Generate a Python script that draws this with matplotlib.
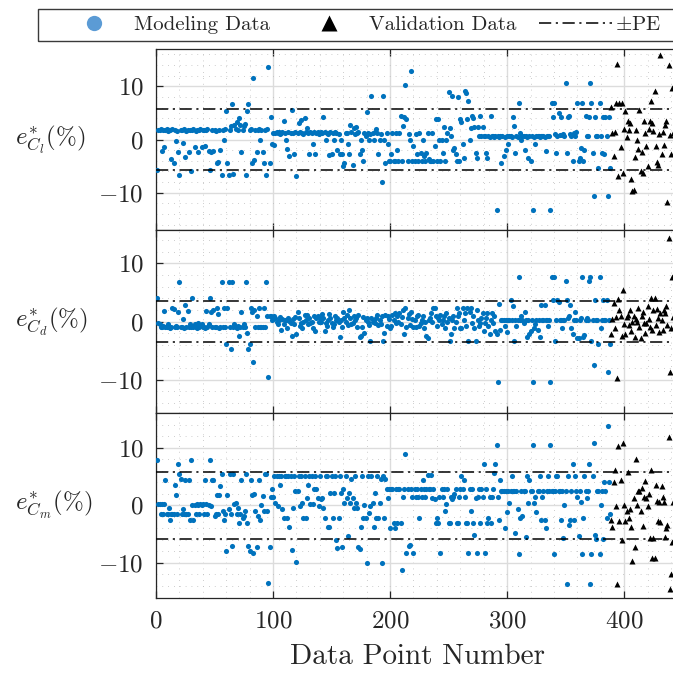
import numpy as np
import matplotlib
matplotlib.use("Agg")
import matplotlib.pyplot as plt
from matplotlib.lines import Line2D
from matplotlib.patches import Rectangle
from matplotlib.legend_handler import HandlerLine2D
from matplotlib.ticker import MultipleLocator

plt.rcParams.update({
    "font.family": "serif",
    "font.serif": ["cmr10"],
    "mathtext.fontset": "cm",
    "axes.formatter.use_mathtext": True,
    "axes.unicode_minus": True,
})

# ---------------------------------------------------------------- data
# relative errors (%) of the modeling points, in data-point order
cl_model = [
    -5.8, 1.8, 1.7, 1.9, -2.2, 1.8, -1.5, 1.7, 1.9, 1.6, 1.8, 1.7, -3.6, 1.9, -4.4, 1.8, -0.3, 1.6, -2.3, -6.6,
    1.8, 1.7, -0.7, 1.9, -3.3, 1.6, 1.8, -2.4, 1.7, -6.0, 1.8, 1.9, -1.5, 1.6, 1.8, -2.3, 1.7, 1.9, -1.4, 1.8,
    1.8, -1.3, 1.7, 1.9, -2.2, -5.8, -2.3, 1.8, -2.1, 1.7, 1.6, -4.4, -4.3, 1.8, -1.9, -6.6, 1.7, 0.0, 1.9, 5.3,
    -4.5, -6.6, 1.8, 2.6, 6.6, -6.5, 2.8, 1.9, 3.2, 1.7, 4.0, 2.8, -2.3, 1.8, 2.5, 2.9, -6.6, 5.3, 6.6, 1.8,
    1.9, -4.5, 11.6, -3.8, 1.8, -2.3, 1.7, 1.9, 0.0, 1.8, -2.3, -4.4, 1.7, -6.6, 1.9, 13.7, -4.4, 4.2, -0.9, 1.2,
    -1.0, 1.3, 1.5, 1.2, 1.4, 1.1, 1.3, 1.5, 3.5, 1.2, -0.1, -1.8, 1.4, -3.1, 1.2, 5.5, 1.3, -2.8, 1.5, -6.9,
    1.2, 3.1, 1.4, 3.6, 1.3, 1.1, 4.1, 1.5, 2.2, 1.2, -2.8, 1.4, 1.3, -0.9, 1.5, -2.8, 1.2, 1.4, 1.1, 1.3,
    1.5, 1.2, 4.2, 1.4, 0.0, 1.3, 1.1, -3.0, 1.4, -2.8, 1.2, 0.0, 1.5, 1.3, -1.9, 1.1, -2.8, 0.0, -2.8, -5.0,
    -4.4, 1.3, 1.2, -0.9, -2.8, 2.8, 1.4, -4.7, 2.2, 1.1, 2.4, 1.3, 1.5, -2.8, 0.0, -1.9, -4.1, 1.2, 0.6, 5.2,
    1.3, 0.0, 1.1, 8.2, 1.3, 0.0, 1.4, 1.9, 1.2, -2.8, 0.0, 1.1, -7.9, 8.2, 0.0, -4.4, 1.2, -0.9, -4.1, -4.1,
    -2.8, 1.3, -4.1, -4.1, 1.2, -1.9, -4.1, 1.3, 4.4, -4.1, 2.5, 4.2, 10.2, 3.8, -4.1, 1.1, 0.0, 12.9, -4.1, -1.3,
    -4.1, 1.1, -2.8, -4.1, 1.3, -2.6, -4.1, 0.0, -3.1, -4.1, -2.6, 1.2, -3.7, -4.1, -4.1, 1.3, -4.1, -1.3, 3.8, -4.1,
    3.8, -0.1, -4.1, 0.0, -2.5, 2.4, -4.1, 0.0, 1.2, 8.9, 2.2, 0.6, 8.2, -2.0, -1.6, -2.8, -4.1, 8.0, -4.1, 3.8,
    3.2, -0.9, -3.5, 9.1, 8.8, 3.8, 7.2, 0.0, 2.2, 4.4, 4.1, 2.3, -2.5, -3.5, 2.3, 0.6, 4.4, 0.6, 2.3, 0.6,
    0.6, -2.5, -3.5, 0.6, 0.5, 4.4, 0.6, 0.7, 0.5, 0.6, -13.3, 0.6, 0.5, 0.7, -4.4, 0.6, -3.1, 0.5, -1.9, 0.6,
    -0.9, 0.6, 0.7, 0.5, 4.3, 2.6, -2.5, 0.6, 0.5, 6.9, 1.3, 0.0, 0.6, 0.7, -2.0, 0.6, 0.5, -3.5, 0.6, -4.1,
    0.6, -13.3, 0.5, -0.9, 0.6, 0.7, 0.6, 0.5, 0.6, 0.7, 0.6, 0.5, -2.2, 0.6, 0.7, 0.6, -13.3, 6.9, 4.2, 6.9,
    1.0, -2.5, 0.6, 5.0, 0.9, 4.3, 0.9, 1.0, 0.6, 10.7, -2.5, 4.3, 4.5, 1.1, 0.6, -4.1, 1.3, 0.6, 1.5, 6.9,
    -4.1, -3.5, -1.6, 6.9, -4.1, -2.0, 4.5, 0.6, 0.6, 4.3, 10.7, 6.9, -2.5, -10.6, 4.3, 0.6, 0.6, -5.3, 6.9, 0.6,
    -2.5, 4.3, -2.8, 4.3, 0.6, -10.6, 4.3, -5.3,
]
cd_model = [
    4.1, -0.3, -0.5, -0.9, -1.0, -0.8, 1.8, -1.0, -0.9, -0.4, -1.0, -1.1, -0.9, 2.4, 2.1, -1.0, -0.8, -1.0, 1.7, 6.8,
    -1.0, -0.9, 0.5, -1.1, 2.8, -0.9, 1.8, -1.0, -0.5, -0.9, 4.1, -1.0, -0.4, -0.9, -1.1, -0.3, -1.0, -0.8, -0.5, -1.0,
    -0.9, -1.1, 1.8, -0.9, -0.4, 4.1, 1.7, -1.0, 2.0, -0.9, -1.0, 2.3, 1.3, -1.1, -0.9, 6.8, -1.0, 2.3, -0.9, -3.8,
    2.3, 6.8, -1.0, -4.8, 6.8, -0.9, -0.5, -1.0, -1.1, -0.8, -2.5, -1.0, 1.7, -0.9, -0.5, -1.0, 6.8, -2.0, -4.8, -3.8,
    2.3, 1.7, -7.0, 2.0, -0.9, 0.9, -1.0, 2.3, -1.0, -1.0, -1.0, 2.3, -1.0, 6.8, 1.0, -9.6, 0.9, 1.0, 0.3, 0.5,
    0.9, 0.6, 0.0, -0.5, 0.2, 0.8, -1.5, 0.4, -0.5, 0.2, 0.3, -1.2, 0.6, 0.1, -0.3, -2.5, 0.5, -0.5, 0.7, -2.1,
    1.6, 0.6, -0.8, -0.3, -1.1, 0.0, 1.1, 0.3, 1.1, -0.5, 0.6, -0.3, 0.0, -1.1, 0.9, -1.7, 0.6, 0.9, 0.0, 0.6,
    0.0, 1.3, 0.6, -1.7, -0.3, -0.8, 0.3, 1.3, 0.6, -0.3, -1.0, -0.5, 0.9, 0.3, 0.6, 0.0, -2.7, 0.3, -0.9, 1.7,
    0.6, 0.0, 1.1, -0.6, 2.0, 0.6, -0.5, -0.3, 0.9, 0.3, 0.6, -0.9, 1.2, -2.7, -2.5, -0.9, 0.7, -2.0, 0.3, 0.6,
    0.0, -0.6, -3.4, 0.6, 0.0, 0.3, -0.3, 0.6, 1.1, -0.6, 0.3, -0.5, 1.0, -3.4, -1.9, 1.1, -0.8, 1.0, 0.5, -1.1,
    -0.8, 1.1, 0.2, 1.4, -0.2, 0.9, 0.0, 1.5, -0.5, 0.8, 2.0, -2.2, 2.3, -1.0, 0.6, 1.3, -0.6, 1.7, 0.4, -1.0,
    0.3, -1.0, 0.9, 1.2, -0.8, -0.2, 0.2, 1.0, -1.1, 0.0, -2.5, -2.8, 0.3, 0.6, 1.4, 0.0, 2.3, 2.3, 1.0, -0.8,
    0.6, 0.3, 1.2, -0.5, 0.3, 0.9, -1.1, 1.4, 0.0, 0.6, -3.4, -2.2, 0.3, 0.9, -1.1, 0.0, 2.3, 0.9, 1.4, -1.1,
    -1.1, 2.3, 0.3, 1.4, -0.8, 2.3, -3.4, 1.7, 2.3, -0.3, 0.9, -1.1, -3.4, 2.0, 0.3, -0.8, -0.3, 0.6, 1.4, -1.7,
    -0.3, 0.6, 1.4, -0.8, -2.2, 0.3, 1.4, -0.3, 0.9, -1.7, -2.2, -10.4, 3.0, -1.4, 0.3, 0.3, 0.3, -0.8, 0.3, -1.8,
    0.3, 0.3, 3.7, 0.3, 2.6, -3.4, 0.3, -0.8, 0.3, 7.6, 0.3, 0.9, 0.3, -0.3, 1.7, 0.3, -2.7, 0.3, -2.2, -1.7,
    0.3, -10.4, -1.1, -0.5, 0.3, -1.4, 0.3, -2.7, 2.8, 0.3, 0.3, 2.8, 0.3, 0.3, -0.8, 0.3, -10.4, 7.6, 3.7, 7.6,
    -3.4, 0.3, 3.7, 3.4, 0.3, 0.3, -1.1, 0.3, 0.3, 6.9, 3.7, 0.6, 0.9, 2.8, -1.1, -2.2, 0.3, 1.7, 0.3, -2.8,
    -2.8, 0.3, 0.6, 7.6, -2.6, -2.3, 0.3, 0.6, 0.3, 6.9, 7.6, -3.4, 0.3, -7.5, 3.7, 0.3, 0.3, -3.9, 7.6, -1.1,
    0.3, 3.7, 0.3, 0.3, 3.7, -8.7, 0.3, -3.9,
]
cm_model = [
    7.8, 0.2, 0.2, -1.6, 0.2, -1.6, 0.2, 4.3, -1.6, -1.6, -0.4, -2.5, -1.6, -1.6, -1.6, 3.5, 1.8, -1.6, 7.2, 5.5,
    4.6, -1.6, -0.7, -1.6, 4.3, -1.6, -1.6, 4.4, -2.5, 7.8, 0.0, -2.5, 0.0, -1.6, 0.2, 0.0, -1.6, 0.2, 0.0, 0.2,
    -1.6, 4.4, 0.2, -1.6, 0.0, 7.8, -0.1, 4.4, 4.4, -1.9, -1.6, 1.8, -1.6, 1.8, 3.4, 5.5, -1.0, -2.5, -1.6, -8.0,
    1.8, -0.7, 5.5, -1.6, -7.0, 5.5, 0.2, 0.4, -1.6, -0.4, -3.0, -1.6, 4.4, -2.2, -1.8, -1.0, 5.5, -3.0, -7.0, -8.0,
    4.4, 1.8, -8.2, 1.9, -1.0, -7.3, -1.8, 4.4, -2.5, 0.0, 1.6, -1.0, 5.5, 5.5, -1.0, -13.5, -7.3, 1.4, 2.8, 1.5,
    5.1, 0.4, 5.1, -0.1, 5.1, 3.5, 5.1, -0.7, -2.2, 5.1, 5.1, -2.2, 5.1, -3.8, 5.1, -7.8, -0.4, 5.1, 2.5, -9.8,
    2.5, 5.1, -0.1, 5.1, 0.4, -2.2, 5.1, -2.2, 1.2, 3.5, 5.1, 0.2, 5.1, 0.2, 2.8, 5.1, 2.8, 1.2, -0.1, 5.1,
    1.0, 1.2, -0.4, -2.2, 5.1, 5.1, -3.8, -3.8, 2.1, 5.1, -2.2, 2.1, 5.1, -6.0, -7.5, -2.2, 5.1, 2.1, -7.3, 2.8,
    0.4, 5.1, 1.2, -5.4, 2.1, 0.4, 4.5, 1.2, -0.4, 5.1, 0.4, -0.4, -7.3, -7.6, -3.8, 5.1, -2.2, 0.0, -2.2, -10.0,
    5.1, -1.3, -0.1, 5.1, 0.4, -3.8, 2.2, -2.2, 5.1, -2.2, 0.4, 4.5, -10.0, 5.1, -2.2, 4.5, 2.9, 1.2, 2.9, -3.9,
    2.9, 2.9, -3.0, -3.9, 2.9, -3.0, 2.9, 2.9, -3.0, -11.2, 1.4, 2.9, 8.9, -8.2, 2.9, -7.0, -6.9, 2.9, 1.4, -8.2,
    2.9, 1.4, 2.9, 1.4, -2.2, 2.9, 1.4, 4.3, 2.9, 1.4, 2.9, 5.2, 2.9, 2.9, 5.2, 1.2, 2.9, 1.1, -3.0, -2.2,
    -3.0, 1.4, -8.2, 2.8, 1.4, 2.9, -1.0, 0.2, 2.9, -3.0, -3.0, 1.4, 1.1, 1.4, 1.9, 2.9, -3.0, -3.0, 1.4, 2.9,
    5.0, 2.8, 4.3, 1.4, -3.0, -3.0, -8.2, 2.8, -1.0, 2.9, -3.0, -5.1, 1.2, -8.2, 1.4, 2.9, -3.0, 2.8, 1.4, 7.2,
    -8.2, 2.8, -3.0, -2.2, 1.4, -3.0, 1.4, 2.9, 5.6, 7.2, 10.5, 1.4, -2.5, 4.3, 2.5, 2.5, 2.5, -3.9, 2.5, -1.2,
    2.5, 0.4, 2.5, 5.1, 2.5, 2.5, -4.8, 2.5, -0.6, -8.5, -2.2, 2.5, -1.9, 2.5, 2.5, -5.5, 5.1, 0.4, 4.3, 2.5,
    2.5, 10.5, 0.4, 1.4, -1.2, 2.5, 2.5, 5.1, -2.5, 1.4, 2.5, -2.5, -3.9, 2.5, 5.1, 2.5, 10.5, 2.5, 2.5, -8.4,
    2.5, 5.1, 5.1, 2.5, 2.5, -2.5, 2.5, -5.6, 0.0, 2.5, -13.6, 5.1, -3.5, -2.5, 2.5, 7.2, -2.5, 5.1, 2.5, 1.4,
    -5.3, 2.5, 0.5, -8.4, -2.2, 5.1, 2.5, 1.2, 2.5, 7.2, -13.6, -8.4, 5.1, 10.8, -5.1, -5.9, 2.5, 2.5, -8.4, 0.0,
    2.5, -5.9, 4.0, 2.5, -2.2, 13.7, 4.0, -1.5,
]

# relative errors (%) of the validation points, following the modeling set
cl_valid = [
    6.1, 1.3, -3.1, 1.4, 6.8, 14.2, -6.9, 6.8, -1.4, 6.8, -6.3, 1.9, 5.3, 0.5, 3.5, 1.8, 3.1, -7.5,
    -9.7, -9.5, -3.3, 1.8, 0.0, -1.8, 5.5, -6.0, -2.4, -6.2, 3.5, 1.3, -1.3, -4.9, 1.9, 3.5, 7.2, 3.1,
    1.6, 9.1, -1.3, -4.3, -4.7, 1.1, 15.8, -2.8, 1.4, -1.0, 2.8, 3.5, -11.8, 14.0, 0.9, -2.8, 9.6, 1.2,
]
cd_valid = [
    -2.2, 0.4, 3.1, -1.1, 0.8, -9.7, 3.8, 2.0, 1.0, -2.5, 5.4, -0.5, -2.2, 0.7, 1.2, -0.6, 2.0, -1.6,
    -0.1, 0.9, -2.7, 0.5, -0.1, 2.3, -1.0, -2.8, 0.9, 1.7, -0.3, -1.9, -0.3, 2.6, 0.4, -0.9, 4.0, -1.4,
    1.9, 4.0, -0.6, 2.2, 0.6, -1.8, 1.4, 0.3, -1.4, 2.0, 1.4, 2.6, -0.6, 14.4, -8.7, -1.1, 7.6, 0.8,
]
cm_valid = [
    -2.5, -3.8, 4.0, 6.2, -0.2, -13.6, 10.2, -2.8, 4.4, -6.1, 10.8, 0.0, -2.8, -1.0, 5.8, -2.2, -0.6, -3.7,
    -9.6, 1.2, -7.2, 8.1, 0.0, 2.4, 2.5, -1.0, 3.0, -3.6, 1.5, 4.2, 1.2, -0.2, 2.0, -5.7, 6.2, -9.1,
    -5.7, -9.2, 3.5, 0.8, -2.8, 0.5, -2.9, 3.4, 1.4, 0.5, -5.5, -3.9, -3.5, 11.8, -14.5, -12.0, -6.3, 0.6,
]

# prediction-error bounds (%) per coefficient
pe_values = [5.7, 3.5, 5.8]
y_limits = [17.0, 15.7, 16.0]
y_labels = [r"$e^{*}_{C_l}(\%)$", r"$e^{*}_{C_d}(\%)$", r"$e^{*}_{C_m}(\%)$"]
x_ticks = [0, 100, 200, 300, 400]
y_ticks = [-10, 0, 10]
legend_labels = ["Modeling Data", "Validation Data", r"$\pm$PE"]

# ---------------------------------------------------------------- figure
W, H = 673, 677
fig = plt.figure(figsize=(W / 100, H / 100), dpi=100)

BLUE = "#0072BD"
TXT = "#262626"
x_left, x_right = 156, 678
panels = [(49, 230), (230, 413), (413, 597.5)]
x_max = 446

models = [cl_model, cd_model, cm_model]
valids = [cl_valid, cd_valid, cm_valid]

axes = []
for i, (top, bottom) in enumerate(panels):
    ax = fig.add_axes([x_left / W, 1 - bottom / H, (x_right - x_left) / W, (bottom - top) / H])
    axes.append(ax)
    ym = np.asarray(models[i])
    yv = np.asarray(valids[i])
    xm = np.arange(1, len(ym) + 1)
    xv = np.arange(len(ym) + 1, len(ym) + 1 + len(yv))

    ax.plot(xm, ym, "o", color=BLUE, ms=3.7, mec="none", zorder=3)
    ax.plot(xv, yv, "^", color="k", ms=4.6, mec="none", zorder=3)
    for s in (1, -1):
        ax.axhline(s * pe_values[i], color="k", lw=1.1,
                   ls=(0, (8, 3, 1.4, 3)), zorder=4)

    ax.set_xlim(0, x_max)
    ax.set_ylim(-y_limits[i], y_limits[i])
    ax.set_xticks(x_ticks)
    ax.set_yticks(y_ticks)
    ax.xaxis.set_minor_locator(MultipleLocator(20))
    ax.yaxis.set_minor_locator(MultipleLocator(2))
    ax.set_axisbelow(True)
    ax.grid(which="major", color="#dcdcdc", lw=1.0, ls="-")
    ax.grid(which="minor", color="#bdbdbd", lw=0.6, ls=(0, (1, 6)))
    ax.tick_params(which="major", direction="in", length=5, width=0.9,
                   top=True, right=False, labelsize=18, colors=TXT, pad=9)
    ax.tick_params(which="minor", length=0)
    for sp in ax.spines.values():
        sp.set_color(TXT)
        sp.set_linewidth(0.9)
    if i < 2:
        ax.tick_params(labelbottom=False)

    ax.set_ylabel(y_labels[i], rotation=0, ha="left", va="center",
                  fontsize=18, color=TXT)
    ax.yaxis.set_label_coords(-(x_left - 15) / (x_right - x_left), 0.5)

axes[-1].set_xlabel("Data Point Number", fontsize=21, color=TXT, labelpad=8)


# ---------------------------------------------------------------- legend
class MarkerAt(HandlerLine2D):
    def __init__(self, frac, **kw):
        super().__init__(numpoints=1, **kw)
        self.frac = frac

    def get_xdata(self, legend, xdescent, ydescent, width, height, fontsize):
        xdata = np.array([-xdescent, -xdescent + width])
        return xdata, np.array([-xdescent + self.frac * width])


h_model = Line2D([], [], ls="none", marker="o", color="#5B9BD5", mec="none", ms=11)
h_valid = Line2D([], [], ls="none", marker="^", color="k", mec="none", ms=11)
h_pe = Line2D([], [], color="k", lw=1.1, ls=(0, (8, 3, 1.4, 3)))

leg = fig.legend([h_model, h_valid, h_pe], legend_labels, ncol=3, frameon=False,
                 loc="center left", bbox_to_anchor=(58 / W, 1 - 24.7 / H),
                 borderpad=0, borderaxespad=0, handlelength=3.5,
                 handletextpad=0.15, columnspacing=1.1, fontsize=15,
                 handler_map={h_model: MarkerAt(0.37), h_valid: MarkerAt(0.37)})
for t in leg.get_texts():
    t.set_color(TXT)

fig.add_artist(Rectangle((38 / W, 1 - 40.8 / H), (720 - 38) / W, 32.2 / H,
                         transform=fig.transFigure, fill=False,
                         ec="#3a3a3a", lw=1.0))

fig.savefig("out.png", dpi=100)
